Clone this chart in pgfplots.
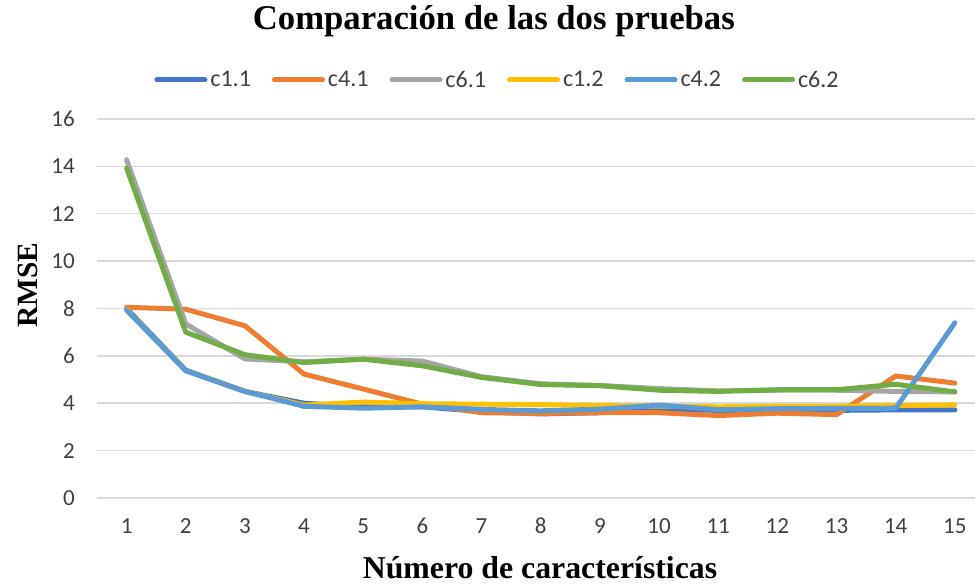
\documentclass[border=0pt]{standalone}
\usepackage{pgfplots}
\pgfplotsset{compat=1.18}
\usepackage{fontspec}
\setmainfont{Liberation Serif}
\newfontfamily\calibri{Carlito}

\definecolor{cA}{HTML}{4472C4}
\definecolor{cB}{HTML}{ED7D31}
\definecolor{cC}{HTML}{A5A5A5}
\definecolor{cD}{HTML}{FFC000}
\definecolor{cE}{HTML}{5B9BD5}
\definecolor{cF}{HTML}{70AD47}
\definecolor{gridgray}{HTML}{D9D9D9}
\definecolor{ticktext}{HTML}{404040}

\begin{document}
\begin{tikzpicture}
    \begin{axis}[
        scale only axis,
        width=878pt, height=379pt,
        xmin=0.5, xmax=15.34,
        ymin=0, ymax=16,
        xtick={1,...,15},
        ytick={0,2,...,16},
        ymajorgrids=true,
        grid style={color=gridgray, line width=1.5pt},
        axis line style={draw=none},
        major tick length=0pt,
        /pgf/number format/assume math mode=true,
        tick label style={font=\calibri\fontsize{23}{26}\selectfont, color=ticktext},
        yticklabel style={anchor=east, inner sep=0pt, xshift=-22pt},
        xticklabel style={anchor=base, inner sep=0pt, yshift=-36pt},
        title={Comparación de las dos pruebas},
        title style={at={(0.452,1.243)}, anchor=center, inner sep=0pt,
            font=\bfseries\fontsize{34.7}{36}\selectfont},
        xlabel={Número de características},
        xlabel style={at={(0.5046,-0.183)}, anchor=center, inner sep=0pt,
            font=\bfseries\fontsize{31.8}{34}\selectfont},
        ylabel={RMSE},
        ylabel style={at={(-0.0786,0.562)}, anchor=center, inner sep=0pt,
            font=\bfseries\fontsize{29.4}{32}\selectfont},
        legend columns=6,
        legend style={draw=none, fill=none, at={(0.4556,1.103)}, anchor=center,
            font=\calibri\fontsize{24}{26}\selectfont, text=ticktext,
            /tikz/every odd column/.append style={column sep=2pt},
            /tikz/every even column/.append style={column sep=20pt},
            nodes={inner sep=1pt}},
        legend image code/.code={\draw[#1, line width=5pt, line cap=round] (0pt,0pt) -- (48pt,0pt);},
        every axis plot/.append style={line width=5pt, line join=round, line cap=round, mark=none},
    ]

    \addplot[color=cA] coordinates {
        (1,8.0)(2,5.4)(3,4.5)(4,4.0)(5,3.85)(6,3.85)(7,3.65)(8,3.55)
        (9,3.6)(10,3.75)(11,3.7)(12,3.7)(13,3.7)(14,3.72)(15,3.72)
    };
    \addlegendentry{c1.1}
    \addplot[color=cB] coordinates {
        (1,8.05)(2,7.97)(3,7.27)(4,5.23)(5,4.6)(6,3.96)(7,3.6)(8,3.57)
        (9,3.6)(10,3.6)(11,3.48)(12,3.58)(13,3.52)(14,5.15)(15,4.85)
    };
    \addlegendentry{c4.1}
    \addplot[color=cC] coordinates {
        (1,14.28)(2,7.35)(3,5.87)(4,5.75)(5,5.86)(6,5.78)(7,5.12)(8,4.82)
        (9,4.75)(10,4.62)(11,4.52)(12,4.55)(13,4.55)(14,4.5)(15,4.48)
    };
    \addlegendentry{c6.1}
    \addplot[color=cD] coordinates {
        (1,7.95)(2,5.38)(3,4.5)(4,3.92)(5,4.05)(6,3.98)(7,3.96)(8,3.94)
        (9,3.9)(10,3.88)(11,3.85)(12,3.87)(13,3.87)(14,3.9)(15,3.93)
    };
    \addlegendentry{c1.2}
    \addplot[color=cE] coordinates {
        (1,7.93)(2,5.37)(3,4.5)(4,3.87)(5,3.79)(6,3.85)(7,3.74)(8,3.68)
        (9,3.75)(10,3.92)(11,3.73)(12,3.77)(13,3.78)(14,3.79)(15,7.4)
    };
    \addlegendentry{c4.2}
    \addplot[color=cF] coordinates {
        (1,13.93)(2,7.0)(3,6.05)(4,5.72)(5,5.86)(6,5.58)(7,5.09)(8,4.79)
        (9,4.74)(10,4.55)(11,4.5)(12,4.57)(13,4.57)(14,4.8)(15,4.48)
    };
    \addlegendentry{c6.2}

    \end{axis}
    \pgfresetboundingbox
    \path[use as bounding box] ([shift={(-97pt,-87pt)}]current axis.south west)
        rectangle ([shift={(0pt,119pt)}]current axis.north east);
\end{tikzpicture}
\end{document}
